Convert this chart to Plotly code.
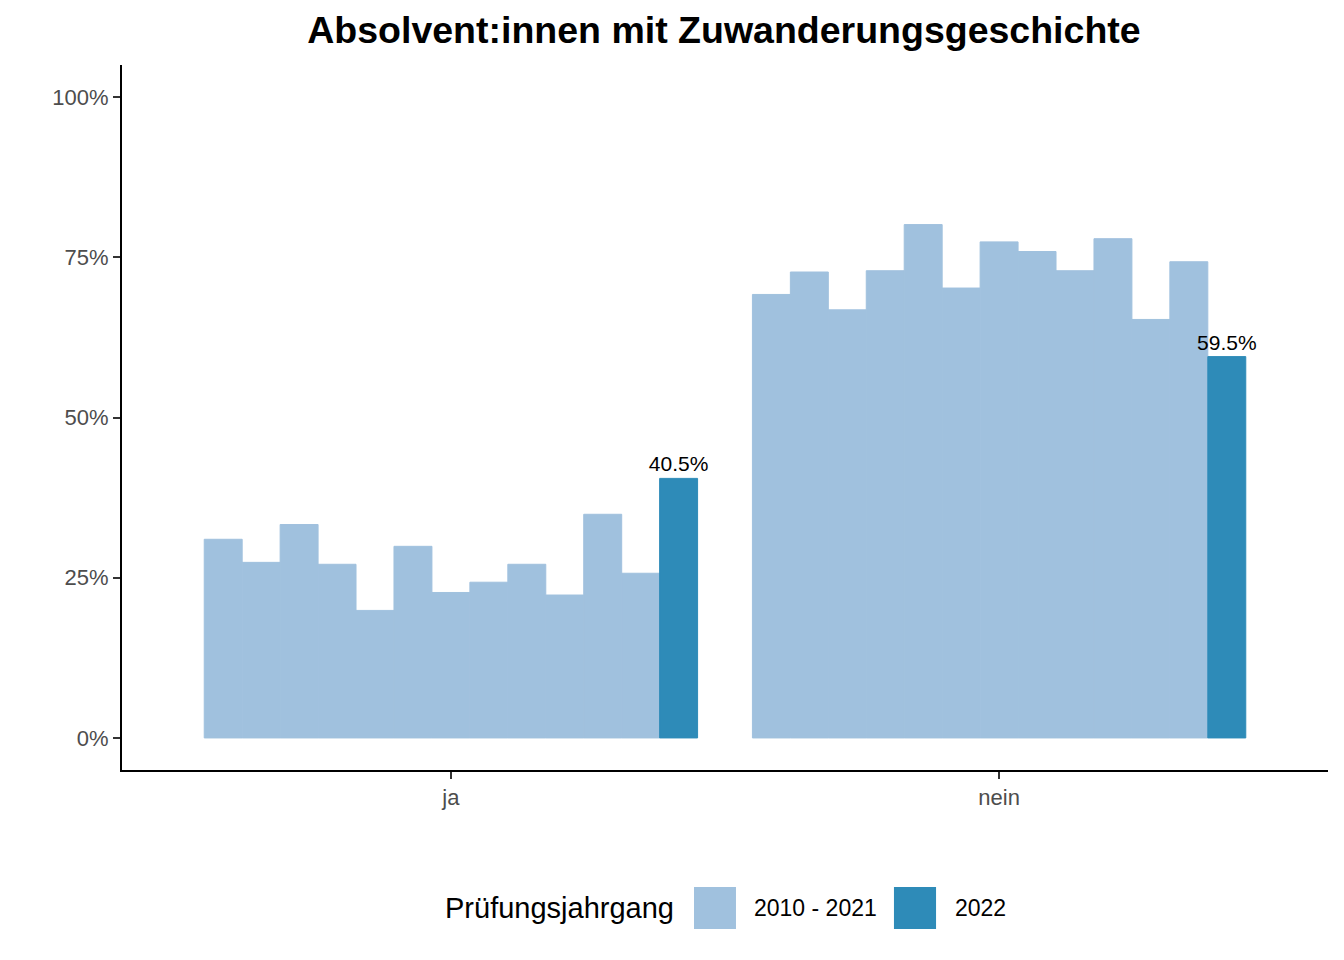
import plotly.graph_objects as go

categories = ["ja", "nein"]
years = list(range(2010, 2023))
ja = [31.0, 27.4, 33.3, 27.1, 19.9, 29.9, 22.7, 24.3, 27.1, 22.3, 34.9, 25.7, 40.5]
nein = [69.2, 72.7, 66.8, 72.9, 80.1, 70.2, 77.4, 75.9, 72.9, 77.9, 65.3, 74.3, 59.5]
legend_labels = ["2010 - 2021", "2022"]

light = "#A0C1DE"
dark = "#2E8BB8"

fig = go.Figure()
for i, yr in enumerate(years):
    last = yr == 2022
    col = dark if last else light
    fig.add_trace(go.Bar(
        x=categories,
        y=[ja[i], nein[i]],
        name=str(yr),
        showlegend=False,
        marker=dict(color=col, line=dict(width=1, color=col)),
        text=[f"{v:.1f}%" for v in (ja[i], nein[i])] if last else None,
        textposition="outside" if last else "none",
        constraintext="none",
        textfont=dict(size=21, color="black"),
        cliponaxis=False,
        hovertemplate="%{x}: %{y:.1f}%<extra>" + str(yr) + "</extra>",
    ))

# hand-made legend with big keys like ggplot
fig.add_annotation(text="Prüfungsjahrgang", xref="paper", yref="paper",
                   x=0.4594, y=-0.1957, xanchor="right", yanchor="middle",
                   showarrow=False, font=dict(size=29, color="black"))
for (x0, x1, lx), lab, col in zip([(0.4743, 0.5091, 0.5224), (0.6401, 0.6750, 0.6891)],
                                  legend_labels, [light, dark]):
    fig.add_shape(type="rect", xref="paper", yref="paper", x0=x0, x1=x1,
                  y0=-0.2255, y1=-0.166, fillcolor=col, line=dict(width=0))
    fig.add_annotation(text=lab, xref="paper", yref="paper", x=lx, y=-0.1957,
                       xanchor="left", yanchor="middle", showarrow=False,
                       font=dict(size=23, color="black"))

axis_style = dict(showline=True, linecolor="black", linewidth=2,
                  ticks="outside", ticklen=7, tickcolor="#333333", tickwidth=2,
                  tickfont=dict(size=22, color="#4D4D4D"), showgrid=False, zeroline=False)

fig.update_layout(
    width=1344, height=960,
    barmode="group", bargap=0.1, bargroupgap=0,
    plot_bgcolor="white", paper_bgcolor="white",
    font=dict(family="Liberation Sans, Arial, sans-serif", color="black"),
    margin=dict(l=114, r=24, t=57, b=198),
    title=dict(text="<b>Absolvent:innen mit Zuwanderungsgeschichte</b>",
               x=0.5327, xanchor="center", y=0.977, yanchor="middle",
               font=dict(size=37.5, color="black")),
    xaxis=dict(range=[-0.6, 1.6], **axis_style),
    yaxis=dict(range=[-5, 105], tickvals=[0, 25, 50, 75, 100],
               ticktext=["0%", "25%", "50%", "75%", "100%"], **axis_style),
)

fig.write_html("out.html")
